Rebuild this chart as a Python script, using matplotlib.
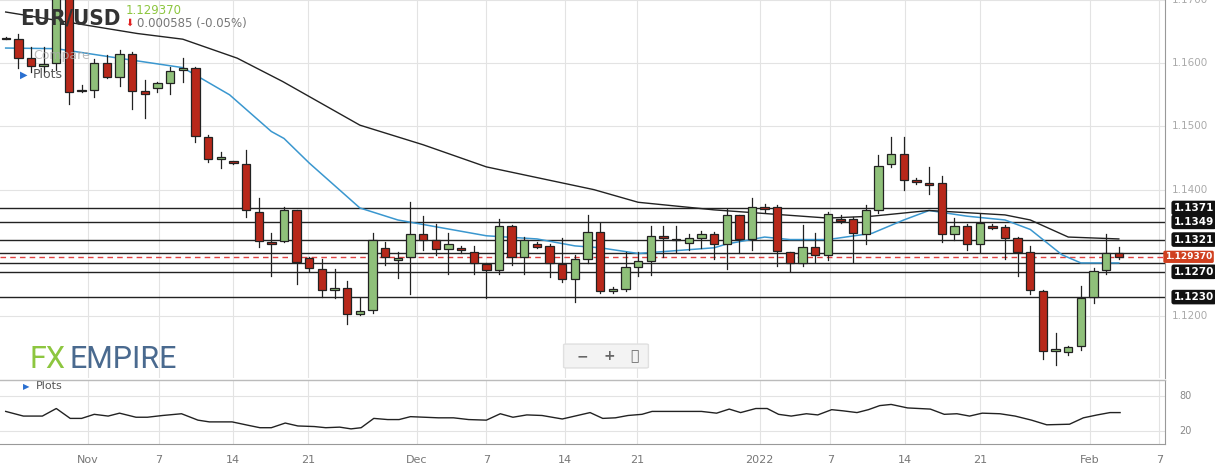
import matplotlib
matplotlib.use("Agg")
import matplotlib.pyplot as plt
from matplotlib.patches import Rectangle, FancyBboxPatch

opens = [1.1640,1.1639,1.1609,1.1595,1.1600,1.1710,1.1558,1.1557,1.1600,1.1578,1.1615,1.1556,1.1560,1.1568,1.1589,1.1593,1.1484,1.1448,1.1445,1.1440,
         1.1365,1.1317,1.1319,1.1367,1.1292,1.1275,1.1242,1.1244,1.1204,1.1210,1.1308,1.1289,1.1293,1.1330,1.1320,1.1306,1.1308,1.1302,1.1283,1.1273,
         1.1343,1.1293,1.1314,1.1311,1.1283,1.1258,1.1291,1.1333,1.1240,1.1243,1.1278,1.1287,1.1326,1.1322,1.1316,1.1323,1.1330,1.1314,1.1360,1.1322,
         1.1372,1.1372,1.1301,1.1284,1.1310,1.1296,1.1354,1.1354,1.1330,1.1367,1.1441,1.1456,1.1416,1.1410,1.1410,1.1330,1.1342,1.1314,1.1343,1.1341,
         1.1323,1.1302,1.1239,1.1145,1.1143,1.1152,1.1230,1.1273,1.1299]
highs = [1.1642,1.1647,1.1626,1.1626,1.1720,1.1720,1.1565,1.1607,1.1613,1.1621,1.1618,1.1573,1.1570,1.1594,1.1609,1.1594,1.1487,1.1459,1.1446,1.1463,
         1.1386,1.1331,1.1373,1.1368,1.1294,1.1290,1.1275,1.1255,1.1229,1.1331,1.1317,1.1302,1.1381,1.1359,1.1346,1.1331,1.1311,1.1311,1.1284,1.1354,
         1.1344,1.1325,1.1317,1.1314,1.1323,1.1297,1.1360,1.1347,1.1246,1.1302,1.1302,1.1342,1.1342,1.1342,1.1330,1.1334,1.1333,1.1369,1.1360,1.1387,
         1.1378,1.1375,1.1302,1.1344,1.1331,1.1364,1.1360,1.1357,1.1376,1.1454,1.1483,1.1483,1.1418,1.1436,1.1421,1.1355,1.1346,1.1361,1.1346,1.1344,
         1.1325,1.1311,1.1242,1.1173,1.1152,1.1247,1.1276,1.1330,1.1309]
lows = [1.1638,1.1592,1.1586,1.1586,1.1589,1.1535,1.1555,1.1546,1.1576,1.1564,1.1528,1.1514,1.1555,1.1551,1.1570,1.1476,1.1443,1.1434,1.1441,1.1357,
        1.1309,1.1264,1.1317,1.1251,1.1272,1.1230,1.1228,1.1187,1.1202,1.1205,1.1281,1.1260,1.1235,1.1304,1.1296,1.1267,1.1300,1.1267,1.1228,1.1267,
        1.1280,1.1266,1.1308,1.1262,1.1254,1.1223,1.1284,1.1237,1.1236,1.1239,1.1263,1.1265,1.1294,1.1302,1.1304,1.1307,1.1290,1.1275,1.1299,1.1304,
        1.1365,1.1279,1.1272,1.1279,1.1285,1.1289,1.1347,1.1285,1.1314,1.1363,1.1436,1.1400,1.1409,1.1393,1.1317,1.1321,1.1304,1.1301,1.1338,1.1290,
        1.1264,1.1235,1.1132,1.1122,1.1139,1.1146,1.1221,1.1266,1.1290]
closes = [1.1638,1.1609,1.1596,1.1598,1.1710,1.1554,1.1556,1.1600,1.1578,1.1615,1.1556,1.1552,1.1568,1.1587,1.1593,1.1485,1.1448,1.1451,1.1442,1.1368,
          1.1319,1.1314,1.1367,1.1285,1.1276,1.1242,1.1244,1.1204,1.1208,1.1321,1.1293,1.1292,1.1330,1.1321,1.1306,1.1314,1.1305,1.1284,1.1273,1.1343,
          1.1293,1.1320,1.1310,1.1284,1.1258,1.1291,1.1333,1.1239,1.1243,1.1277,1.1287,1.1326,1.1323,1.1320,1.1323,1.1330,1.1314,1.1360,1.1322,1.1373,
          1.1369,1.1303,1.1284,1.1310,1.1296,1.1361,1.1351,1.1331,1.1367,1.1438,1.1456,1.1416,1.1412,1.1408,1.1330,1.1342,1.1314,1.1347,1.1339,1.1323,
          1.1302,1.1242,1.1145,1.1148,1.1151,1.1229,1.1272,1.1300,1.1294]

ma20_x = [0,4,8.6,14,17.7,21,22,24,28,31,38,42,45,47,50,56,57,60,62,65,68.5,71,73,76,79,81,83.5,85,88]
ma20_y = [1.1624,1.1623,1.1609,1.1593,1.1550,1.1492,1.1481,1.1442,1.1371,1.1352,1.1327,1.1322,1.1311,1.1308,1.1299,1.1308,1.1314,1.1325,1.1321,1.1321,
          1.1331,1.1352,1.1367,1.1358,1.1352,1.1337,1.1297,1.1284,1.1284]
ma50_x = [0,10.4,14,18.3,21.9,28,33,38,46.5,50,56,65,68.5,73,79,81,84,88]
ma50_y = [1.1681,1.1647,1.1638,1.1608,1.1571,1.1502,1.1471,1.1436,1.1400,1.1380,1.1368,1.1355,1.1358,1.1367,1.1360,1.1352,1.1325,1.1322]

ind_x = [0,1.4,2.9,4.0,5.1,6,7,8.1,9,10.3,11.2,12.4,13.9,15.2,16.1,17.9,19.2,20.1,21,22.1,23.1,24.4,25.3,26.4,27.3,28.1,29.1,30.2,31.1,32,33.1,
         34.2,35.4,36.6,38,39.1,40.1,41.2,42.4,44,45.2,46.2,47.2,48.2,49.2,50.3,51.1,52.9,55,56.2,57.2,58.1,59.3,60.2,61.1,62.1,63.3,64.2,65.3,66.2,
         67.3,68.2,69.1,70,71.3,73.1,74.2,75.2,76.2,77.2,78.6,79.8,81.1,82.3,84.1,85.2,86.3,87.3,88.1]
ind_y = [54,46,46,59,42,42,49,46,51,44,44,47,50,39,36,36,30,26,26,34,29,28,26,27,24,26,42,40,40,45,44,43,43,40,39,50,44,48,47,41,47,52,42,43,47,49,
         54,54,54,51,58,52,59,59,49,46,50,48,57,55,52,57,64,66,60,58,49,50,46,51,50,46,39,31,32,43,48,52,52]

levels = [1.1371, 1.1349, 1.1321, 1.1300, 1.1284, 1.1270, 1.1230]
level_labels = ["1.1371", "1.1349", "1.1321", None, None, "1.1270", "1.1230"]
last_price = 1.129370
price_ticks = [1.12, 1.13, 1.14, 1.15, 1.16, 1.17]
price_tick_labels = ["1.1200", "", "1.1400", "1.1500", "1.1600", "1.1700"]
date_pos = [6.5, 12.1, 18.0, 23.9, 32.5, 38.0, 44.2, 49.9, 59.6, 65.2, 71.1, 77.0, 85.7, 91.2]
date_labels = ["Nov", "7", "14", "21", "Dec", "7", "14", "21", "2022", "7", "14", "21", "Feb", "7"]

W, H = 1215, 475
fig = plt.figure(figsize=(W/100, H/100), dpi=100)
xl = (-0.45, 91.65)
ax = fig.add_axes([0, 1-378/H, 1165/W, 378/H])
ax2 = fig.add_axes([0, 1-444/H, 1165/W, 64/H])
grid_c = "#e3e3e3"
up_c, dn_c = "#8fc07a", "#b8281a"

for i in range(len(opens)):
    o, h, l, c = opens[i], highs[i], lows[i], closes[i]
    col = up_c if c >= o else dn_c
    ax.plot([i, i], [l, h], color="#222222", lw=0.9, zorder=3)
    b = min(o, c); hh = max(abs(c-o), 0.00012)
    ax.add_patch(Rectangle((i-0.33, b), 0.66, hh, facecolor=col, edgecolor="#222222", lw=0.9, zorder=4))

ax.plot(ma20_x, ma20_y, color="#3a97cf", lw=1.1, zorder=2)
ax.plot(ma50_x, ma50_y, color="#222222", lw=1.0, zorder=2)
for lv in levels:
    ax.axhline(lv, color="#222222", lw=1.0, zorder=1)
ax.axhline(last_price, color="#e04040", lw=1.0, ls=(0, (4, 3)), zorder=1)

ax.set_xlim(*xl)
ax.set_ylim(1.1102, 1.16995)
ax.set_yticks(price_ticks)
ax.set_yticklabels([])
ax.set_xticks(date_pos)
ax.set_xticklabels([])
ax.tick_params(length=0)
ax.grid(True, color=grid_c, lw=0.8)
for s in ["top", "left", "bottom"]:
    ax.spines[s].set_visible(False)
ax.spines["right"].set_color("#999999")
ax.set_axisbelow(True)

tr = ax.get_yaxis_transform()
for t, lab in zip(price_ticks, price_tick_labels):
    if lab:
        ax.text(1.006, t, lab, transform=tr, fontsize=7.5, color="#aaaaaa", va="center", ha="left")
for lv, lab in zip(levels, level_labels):
    if lab:
        ax.text(1.0075, lv, lab, transform=tr, fontsize=7.5, color="white", fontweight="bold", va="center", ha="left",
                bbox=dict(boxstyle="round,pad=0.22", fc="#111111", ec="none"), clip_on=False, zorder=10)
ax.text(1.0405, last_price, "1.129370", transform=tr, fontsize=6.5, color="white", fontweight="bold", va="center", ha="right",
        bbox=dict(boxstyle="round,pad=0.18", fc="#d0401f", ec="none"), clip_on=False, zorder=10)

# indicator panel
ax2.plot(ind_x, ind_y, color="#222222", lw=1.0)
ax2.set_xlim(*xl)
ax2.set_ylim(-2, 108)
ax2.set_yticks([20, 80])
ax2.set_yticklabels([])
ax2.set_xticks(date_pos)
ax2.set_xticklabels(date_labels, fontsize=8, color="#777777")
ax2.tick_params(length=0, pad=8)
ax2.grid(True, color=grid_c, lw=0.8)
for s in ["top", "left"]:
    ax2.spines[s].set_visible(False)
ax2.spines["right"].set_color("#999999")
ax2.spines["bottom"].set_color("#999999")
tr2 = ax2.get_yaxis_transform()
for v in [20, 80]:
    ax2.text(1.012, v, str(v), transform=tr2, fontsize=7, color="#888888", va="center")
ax2.text(0.02, 0.9, "▶", transform=ax2.transAxes, fontsize=6, color="#2a6fd0", va="center")
ax2.text(0.031, 0.9, "Plots", transform=ax2.transAxes, fontsize=8, color="#555555", va="center")
fig.add_artist(plt.Line2D([0, 1165/W], [1-380/H, 1-380/H], color="#bbbbbb", lw=1))

# header texts
fig.text(20/W, 1-18/H, "EUR/USD", fontsize=16, fontweight="bold", color="#333333", va="center",
         family="DejaVu Sans", fontstretch="condensed")
fig.text(126/W, 1-10/H, "1.129370", fontsize=8.5, color="#8dc63f", va="center")
fig.text(125/W, 1-23/H, "⬇", fontsize=7, color="#e02020", va="center")
fig.text(137/W, 1-23/H, "0.000585 (-0.05%)", fontsize=8.5, color="#777777", va="center")
fig.text(33/W, 1-56/H, "Compare", fontsize=9, color="#aaaaaa", va="center", alpha=0.8)
fig.text(20/W, 1-75/H, "▶", fontsize=7, color="#2a6fd0", va="center")
fig.text(33/W, 1-75/H, "Plots", fontsize=9, color="#555555", va="center")
# logo
fig.text(30/W, 1-360/H, "FX", fontsize=22, color="#8dc63f", va="center", family="Roboto")
fig.text(70/W, 1-360/H, "EMPIRE", fontsize=22, color="#4a6a8f", va="center", family="Roboto")
# zoom buttons
fig.add_artist(FancyBboxPatch((566/W, 1-367/H), 80/W, 22/H, boxstyle="round,pad=0.002", fc="#f3f3f3", ec="#e0e0e0", transform=fig.transFigure))
for xp, s in [(582, "−"), (609, "+"), (634, "⛶")]:
    fig.text(xp/W, 1-356/H, s, fontsize=10, color="#666666", ha="center", va="center", fontweight="bold", family="DejaVu Sans")

fig.savefig("out.png", dpi=100, facecolor="white")
